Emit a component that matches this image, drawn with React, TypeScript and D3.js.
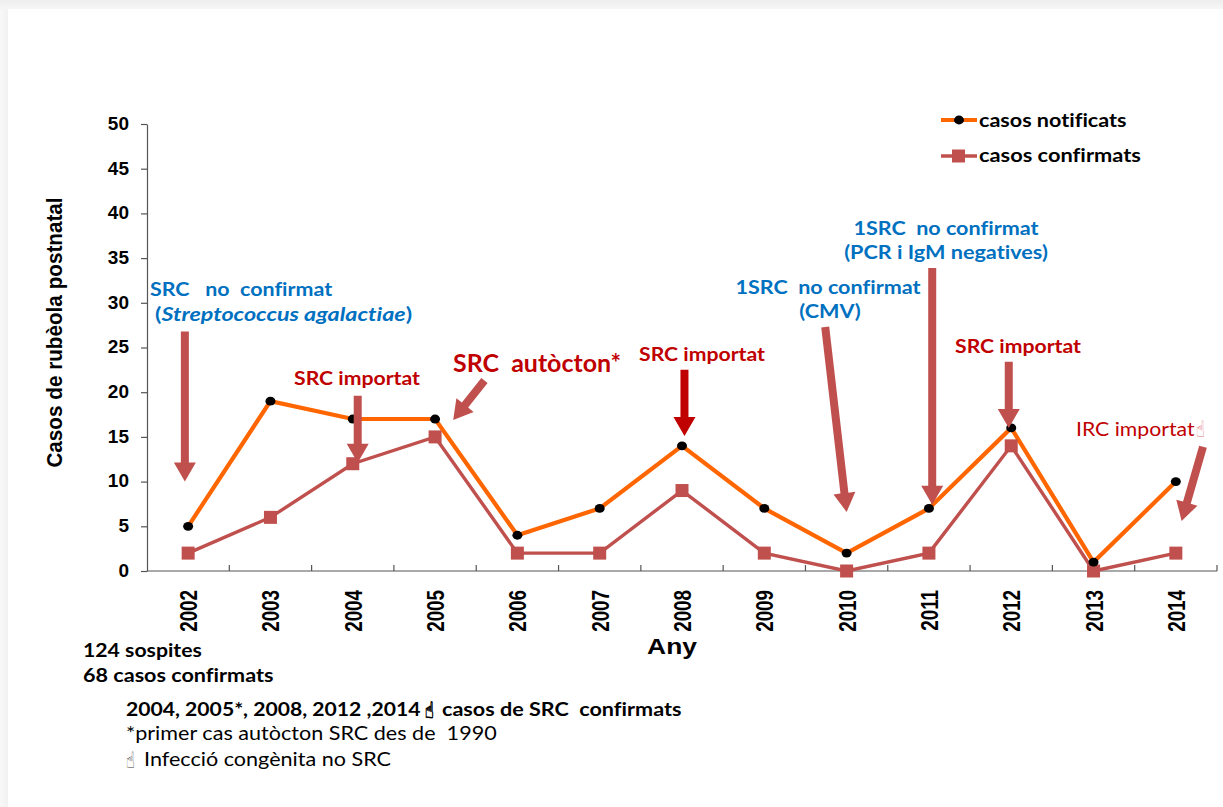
import React, { useEffect, useRef } from 'react';
import * as d3 from 'd3';

const WIDTH = 1223;
const HEIGHT = 807;
const MARGIN = { top: 124, right: 6, bottom: 236, left: 147 };
const ORANGE = '#FF6600';
const ROSE = '#C0504D';
const DARK_RED = '#C00000';
const BLUE = '#0070C0';
const ARIAL = '"Liberation Sans", Arial, sans-serif';
const CALIBRI = 'Lato, "Open Sans", sans-serif';
const SYMBOL = '"DejaVu Sans"';
const HAND = '\u261D';

const YEARS = [2002, 2003, 2004, 2005, 2006, 2007, 2008, 2009, 2010, 2011, 2012, 2013, 2014];
const NOTIFIED = [5, 19, 17, 17, 4, 7, 14, 7, 2, 7, 16, 1, 10];
const CONFIRMED = [2, 6, 12, 15, 2, 2, 9, 2, 0, 2, 14, 0, 2];
const Y_TICKS = [0, 5, 10, 15, 20, 25, 30, 35, 40, 45, 50];

// arrows in chart units: [year, value] tail to tip
const ARROWS: { from: [number, number]; to: [number, number]; color: string }[] = [
  { from: [2001.96, 26.8], to: [2001.96, 10.0], color: ROSE },
  { from: [2004.06, 19.6], to: [2004.06, 12.1], color: ROSE },
  { from: [2005.6, 21.3], to: [2005.22, 16.9], color: ROSE },
  { from: [2008.03, 22.5], to: [2008.03, 15.1], color: DARK_RED },
  { from: [2009.74, 27.3], to: [2010.0, 6.6], color: ROSE },
  { from: [2011.04, 33.9], to: [2011.04, 7.4], color: ROSE },
  { from: [2011.97, 23.4], to: [2011.97, 16.0], color: ROSE },
  { from: [2014.33, 13.9], to: [2014.07, 5.6], color: ROSE },
];

const App: React.FC = () => {
  const svgRef = useRef<SVGSVGElement>(null);

  useEffect(() => {
    const svg = d3.select(svgRef.current);
    svg.selectAll('*').remove();

    const innerW = WIDTH - MARGIN.left - MARGIN.right;
    const innerH = HEIGHT - MARGIN.top - MARGIN.bottom;

    const defs = svg.append('defs');
    const topFade = defs.append('linearGradient').attr('id', 'top-fade').attr('x1', 0).attr('x2', 0).attr('y1', 0).attr('y2', 1);
    topFade.append('stop').attr('offset', 0).attr('stop-color', '#eeeeee');
    topFade.append('stop').attr('offset', 1).attr('stop-color', '#f6f6f6');
    const leftFade = defs.append('linearGradient').attr('id', 'left-fade');
    leftFade.append('stop').attr('offset', 0).attr('stop-color', '#f8f8f8');
    leftFade.append('stop').attr('offset', 1).attr('stop-color', '#f1f1f1');

    // Page shadow around the white slide
    svg.append('rect').attr('width', WIDTH).attr('height', HEIGHT).attr('fill', '#ffffff');
    svg.append('rect').attr('width', WIDTH).attr('height', 9).attr('fill', 'url(#top-fade)');
    svg.append('rect').attr('y', 9).attr('width', 8).attr('height', HEIGHT - 9).attr('fill', 'url(#left-fade)');

    const g = svg.append('g').attr('transform', `translate(${MARGIN.left},${MARGIN.top})`);

    const x = d3.scaleBand<number>().domain(YEARS).range([0, innerW]);
    const y = d3.scaleLinear().domain([0, 50]).range([innerH, 0]);
    const cx = (year: number) => x(2002)! + x.bandwidth() / 2 + (year - 2002) * x.bandwidth();

    // Axes
    g.append('g')
      .call(d3.axisLeft(y).tickValues(Y_TICKS).tickSize(6).tickPadding(12).tickSizeOuter(0))
      .call(sel => {
        sel.select('.domain').attr('stroke', '#555').attr('stroke-width', 1.2);
        sel.selectAll('.tick line').attr('stroke', '#555').attr('stroke-width', 1.2);
        sel.selectAll('text').attr('fill', '#000').attr('font-family', ARIAL).attr('font-weight', 'bold').attr('font-size', 19).attr('dy', '0.28em');
      });

    const xAxis = g.append('g').attr('transform', `translate(0,${innerH})`);
    xAxis.append('line').attr('x2', innerW).attr('stroke', '#555').attr('stroke-width', 1.2);
    xAxis.selectAll('line.tick-mark')
      .data(d3.range(1, YEARS.length + 1))
      .join('line')
      .attr('class', 'tick-mark')
      .attr('x1', i => i * x.bandwidth()).attr('x2', i => i * x.bandwidth())
      .attr('y1', -6).attr('y2', 0)
      .attr('stroke', '#555').attr('stroke-width', 1.2);
    xAxis.selectAll('text')
      .data(YEARS)
      .join('text')
      .attr('transform', d => `translate(${cx(d) + 9},19) scale(1.25,1) rotate(-90)`)
      .attr('text-anchor', 'end')
      .attr('font-family', ARIAL).attr('font-weight', 'bold').attr('font-size', 18.8)
      .attr('fill', '#000')
      .text(d => d);

    // Series
    const line = d3.line<number>().x((_, i) => cx(YEARS[i])).y(v => y(v));
    g.append('path').attr('d', line(CONFIRMED)).attr('fill', 'none').attr('stroke', ROSE).attr('stroke-width', 3.4);
    g.append('path').attr('d', line(NOTIFIED)).attr('fill', 'none').attr('stroke', ORANGE).attr('stroke-width', 4.2);
    g.selectAll('rect.confirmed')
      .data(CONFIRMED)
      .join('rect')
      .attr('class', 'confirmed')
      .attr('x', (_, i) => cx(YEARS[i]) - 6.5).attr('y', v => y(v) - 6.5)
      .attr('width', 13).attr('height', 13)
      .attr('fill', ROSE);
    g.selectAll('ellipse.notified')
      .data(NOTIFIED)
      .join('ellipse')
      .attr('class', 'notified')
      .attr('cx', (_, i) => cx(YEARS[i])).attr('cy', v => y(v))
      .attr('rx', 5).attr('ry', 4.4)
      .attr('fill', '#000');

    // Annotation arrows
    ARROWS.forEach(a => {
      const [x0, y0] = [cx(a.from[0]), y(a.from[1])];
      const [x1, y1] = [cx(a.to[0]), y(a.to[1])];
      const len = Math.hypot(x1 - x0, y1 - y0);
      const ux = (x1 - x0) / len;
      const uy = (y1 - y0) / len;
      const sw = 4;
      const hw = 11;
      const hl = 19;
      const bx = x1 - ux * hl;
      const by = y1 - uy * hl;
      const p = d3.path();
      p.moveTo(x0 - uy * sw, y0 + ux * sw);
      p.lineTo(bx - uy * sw, by + ux * sw);
      p.lineTo(bx - uy * hw, by + ux * hw);
      p.lineTo(x1, y1);
      p.lineTo(bx + uy * hw, by - ux * hw);
      p.lineTo(bx + uy * sw, by - ux * sw);
      p.lineTo(x0 + uy * sw, y0 - ux * sw);
      p.closePath();
      g.append('path').attr('d', p.toString()).attr('fill', a.color);
    });

    // Page-level labels, stretched sideways like the reference slide
    const label = (px: number, py: number, text: string, color: string, size: number, bold = true, anchor = 'start', sx = 1.18) =>
      svg.append('text')
        .attr('transform', `translate(${px},${py}) scale(${sx / 1.06},1)`)
        .attr('fill', color)
        .attr('font-family', CALIBRI)
        .attr('font-size', size * 1.06)
        .attr('font-weight', bold ? 'bold' : 'normal')
        .attr('text-anchor', anchor)
        .style('white-space', 'pre')
        .style('font-variant-ligatures', 'none')
        .text(text);

    // The pointing hand is narrower and taller in the reference than in DejaVu
    const hand = (px: number, py: number, color: string, bold: boolean) =>
      svg.append('text')
        .attr('transform', `translate(${px},${py}) scale(0.8,1.25)`)
        .attr('font-family', SYMBOL)
        .attr('font-size', 18)
        .attr('fill', color)
        .attr('stroke', bold ? color : 'none')
        .attr('stroke-width', bold ? 0.8 : 0)
        .text(HAND);

    svg.append('text')
      .attr('transform', 'translate(61.5,332.5) scale(1.1,1) rotate(-90)')
      .attr('text-anchor', 'middle')
      .attr('font-family', ARIAL).attr('font-weight', 'bold').attr('font-size', 20.7)
      .text('Casos de rubèola postnatal');
    svg.append('text')
      .attr('transform', 'translate(672,654) scale(1.2,1)')
      .attr('text-anchor', 'middle')
      .attr('font-family', ARIAL).attr('font-weight', 'bold').attr('font-size', 22)
      .text('Any');

    // Legend
    svg.append('line').attr('x1', 941).attr('x2', 977).attr('y1', 120).attr('y2', 120).attr('stroke', ORANGE).attr('stroke-width', 4.2);
    svg.append('ellipse').attr('cx', 959).attr('cy', 120).attr('rx', 5).attr('ry', 4.4).attr('fill', '#000');
    svg.append('line').attr('x1', 941).attr('x2', 977).attr('y1', 156).attr('y2', 156).attr('stroke', ROSE).attr('stroke-width', 3.4);
    svg.append('rect').attr('x', 952).attr('y', 149.5).attr('width', 13).attr('height', 13).attr('fill', ROSE);
    label(979, 127, 'casos notificats', '#000', 18.5, true, 'start', 1.165);
    label(979, 162, 'casos confirmats', '#000', 18.5);

    // Blue annotations
    label(150, 296, 'SRC   no  confirmat', BLUE, 18.5, true, 'start', 1.16);
    const strep = label(155, 321, '(', BLUE, 18.5, true, 'start', 1.26);
    strep.append('tspan').attr('font-style', 'italic').text('Streptococcus agalactiae');
    strep.append('tspan').text(')');
    label(828, 294, '1SRC  no confirmat', BLUE, 18.5, true, 'middle', 1.165);
    label(830, 318, '(CMV)', BLUE, 18.5, true, 'middle', 1.17);
    label(946, 235, '1SRC  no confirmat', BLUE, 18.5, true, 'middle', 1.165);
    label(946, 259, '(PCR i IgM negatives)', BLUE, 18.5, true, 'middle', 1.17);

    // Red annotations
    label(294, 385, 'SRC importat', DARK_RED, 18);
    label(453, 372, 'SRC  autòcton*', DARK_RED, 22.5, true, 'start', 1.11);
    label(639, 361, 'SRC importat', DARK_RED, 18);
    label(955, 353, 'SRC importat', DARK_RED, 18);
    label(1076, 436, 'IRC importat', DARK_RED, 18, false);
    hand(1196, 437, '#D9666B', false);

    // Footnotes
    label(83, 657, '124 sospites', '#000', 18);
    label(83, 682, '68 casos confirmats', '#000', 18, true, 'start', 1.2);
    label(126, 716, '2004, 2005*, 2008, 2012 ,2014', '#000', 18, true, 'start', 1.175);
    hand(425, 718, '#000', true);
    label(442, 716, 'casos de SRC  confirmats', '#000', 18, true, 'start', 1.2);
    label(126, 740, '*primer cas autòcton SRC des de  1990', '#000', 18, false, 'start', 1.2);
    hand(126, 768, '#333', false);
    label(144, 766, 'Infecció congènita no SRC', '#000', 18, false, 'start', 1.2);
  }, []);

  return (
    <svg
      ref={svgRef}
      width={WIDTH}
      height={HEIGHT}
      style={{ position: 'absolute', left: 0, top: 0, display: 'block' }}
    />
  );
};

export default App;
